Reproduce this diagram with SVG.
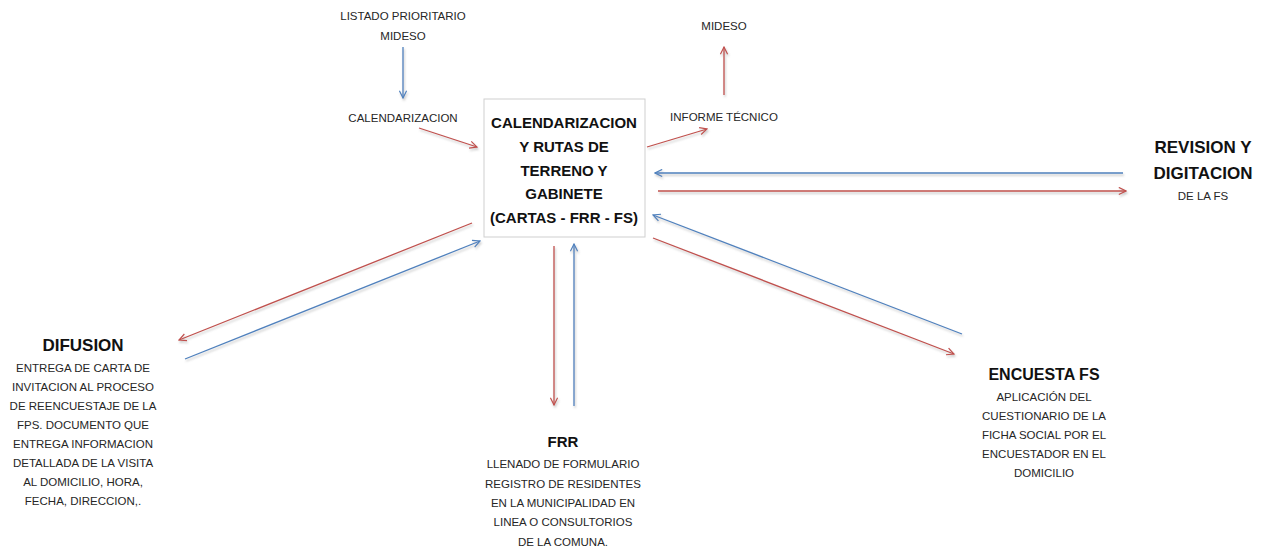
<svg xmlns="http://www.w3.org/2000/svg" width="1263" height="549" viewBox="0 0 1263 549">
<style>
  .t { font-family: "Liberation Sans", Arial, sans-serif; font-size: 11.5px; fill: #262626; text-anchor: middle; }
  .b { font-family: "Liberation Sans", Arial, sans-serif; font-weight: bold; fill: #111111; text-anchor: middle; }
  .red { stroke: #C0504D; stroke-width: 1.3; fill: none; marker-end: url(#ar); }
  .blue { stroke: #4F81BD; stroke-width: 1.3; fill: none; marker-end: url(#ab); }
</style>
<defs>
  <filter id="sh" x="-10%" y="-10%" width="120%" height="120%">
    <feDropShadow dx="1" dy="2" stdDeviation="1.2" flood-color="#808080" flood-opacity="0.45"/>
  </filter>
  <marker id="ar" viewBox="0 0 10 10" refX="9" refY="5" markerWidth="9" markerHeight="9" markerUnits="userSpaceOnUse" orient="auto">
    <path d="M1,1 L9,5 L1,9" fill="none" stroke="#C0504D" stroke-width="1.3"/>
  </marker>
  <marker id="ab" viewBox="0 0 10 10" refX="9" refY="5" markerWidth="9" markerHeight="9" markerUnits="userSpaceOnUse" orient="auto">
    <path d="M1,1 L9,5 L1,9" fill="none" stroke="#4F81BD" stroke-width="1.3"/>
  </marker>
</defs>
<rect width="1263" height="549" fill="#ffffff"/>

<g id="connectors" filter="url(#sh)">
  <line class="blue" x1="403" y1="47" x2="403" y2="98"/>
  <line class="red" x1="419" y1="128" x2="477" y2="147"/>
  <line class="red" x1="724" y1="95" x2="724" y2="47"/>
  <line class="red" x1="647" y1="147" x2="707" y2="129"/>
  <line class="blue" x1="1123" y1="173" x2="655" y2="173"/>
  <line class="red" x1="658" y1="191" x2="1126" y2="191"/>
  <line class="blue" x1="962" y1="334" x2="653" y2="215"/>
  <line class="red" x1="653" y1="238" x2="954" y2="354"/>
  <line class="red" x1="472" y1="223" x2="179" y2="340"/>
  <line class="blue" x1="185" y1="359" x2="480" y2="241"/>
  <line class="red" x1="554" y1="246" x2="554" y2="405"/>
  <line class="blue" x1="574" y1="406" x2="574" y2="244"/>
</g>

<g id="listado">
  <text class="t" x="403" y="20">LISTADO PRIORITARIO</text>
  <text class="t" x="403" y="40">MIDESO</text>
</g>
<g id="calendarizacion-label">
  <text class="t" x="403" y="122">CALENDARIZACION</text>
</g>
<g id="mideso">
  <text class="t" x="724" y="30">MIDESO</text>
</g>
<g id="informe">
  <text class="t" x="724" y="121">INFORME TÉCNICO</text>
</g>

<g id="center">
  <rect x="484" y="99" width="161" height="138" fill="#ffffff" stroke="#cfcfcf" stroke-width="1"/>
  <text class="b" font-size="15" x="564" y="127.5">CALENDARIZACION</text>
  <text class="b" font-size="15" x="564" y="151.5">Y RUTAS DE</text>
  <text class="b" font-size="15" x="564" y="175.5">TERRENO Y</text>
  <text class="b" font-size="15" x="564" y="198.5">GABINETE</text>
  <text class="b" font-size="15" x="564" y="222.5">(CARTAS - FRR - FS)</text>
</g>

<g id="revision">
  <text class="b" font-size="17" x="1203" y="153">REVISION Y</text>
  <text class="b" font-size="17" x="1203" y="179">DIGITACION</text>
  <text class="t" x="1203" y="200">DE LA FS</text>
</g>

<g id="difusion">
  <text class="b" font-size="17" x="83" y="351">DIFUSION</text>
  <text class="t" x="83" y="372">ENTREGA DE CARTA DE</text>
  <text class="t" x="83" y="391">INVITACION AL PROCESO</text>
  <text class="t" x="83" y="410">DE REENCUESTAJE DE LA</text>
  <text class="t" x="83" y="429">FPS. DOCUMENTO QUE</text>
  <text class="t" x="83" y="448">ENTREGA INFORMACION</text>
  <text class="t" x="83" y="467">DETALLADA DE LA VISITA</text>
  <text class="t" x="83" y="486">AL DOMICILIO, HORA,</text>
  <text class="t" x="83" y="505">FECHA, DIRECCION,.</text>
</g>

<g id="frr">
  <text class="b" font-size="15" x="563" y="447">FRR</text>
  <text class="t" x="563" y="468">LLENADO DE FORMULARIO</text>
  <text class="t" x="563" y="488">REGISTRO DE RESIDENTES</text>
  <text class="t" x="563" y="507">EN LA MUNICIPALIDAD EN</text>
  <text class="t" x="563" y="526">LINEA O CONSULTORIOS</text>
  <text class="t" x="563" y="546">DE LA COMUNA.</text>
</g>

<g id="encuesta">
  <text class="b" font-size="16" x="1044" y="380">ENCUESTA FS</text>
  <text class="t" x="1044" y="401">APLICACIÓN DEL</text>
  <text class="t" x="1044" y="420">CUESTIONARIO DE LA</text>
  <text class="t" x="1044" y="439">FICHA SOCIAL POR EL</text>
  <text class="t" x="1044" y="458">ENCUESTADOR EN EL</text>
  <text class="t" x="1044" y="477">DOMICILIO</text>
</g>
</svg>
